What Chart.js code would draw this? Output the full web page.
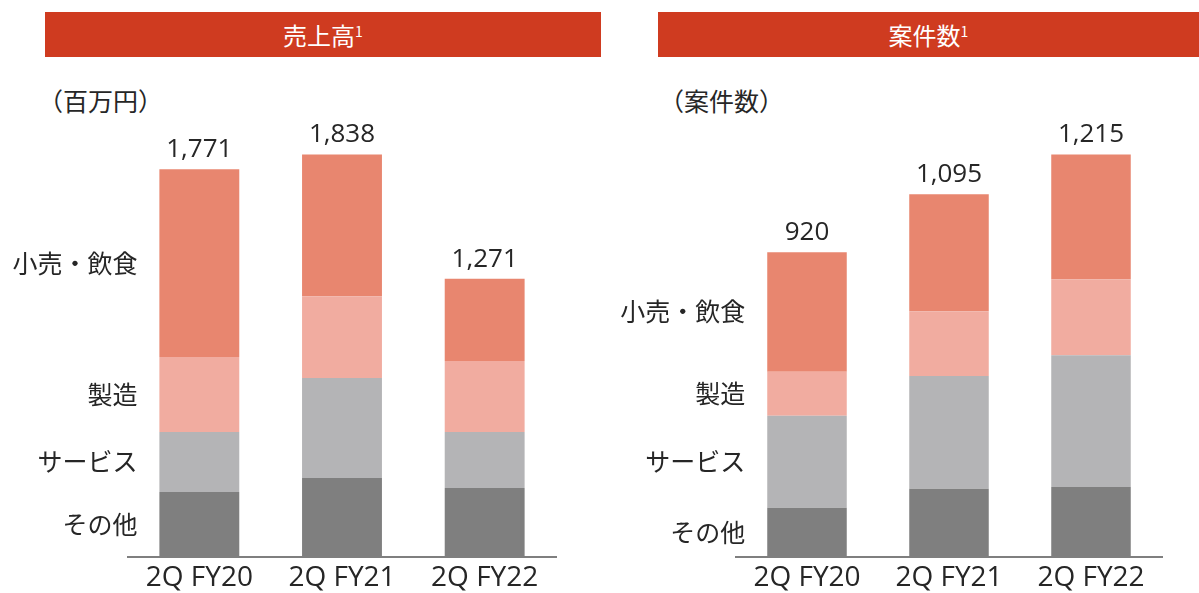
<!DOCTYPE html>
<html lang="ja">
<head>
<meta charset="utf-8">
<script src="https://cdn.jsdelivr.net/npm/chart.js@4.4.0/dist/chart.umd.min.js"></script>
<style>
  html, body { margin: 0; padding: 0; background: #fff; }
  #page { position: relative; width: 1199px; height: 593px; overflow: hidden; color: #262626; }
  .head { position: absolute; top: 12px; height: 45px; background: #CF3B20; color: #fff;
          font: 24px 'Noto Sans CJK JP', sans-serif; line-height: 45px; text-align: center; }
  .head sup { font-size: 14px; vertical-align: 8px; line-height: 0; }
  .unit { position: absolute; top: 88px; font: 25px 'Noto Sans CJK JP', sans-serif; line-height: 25px; }
  canvas { position: absolute; top: 0; }
</style>
</head>
<body>
<div id="page">
  <div class="head" style="left:45px;width:556px">売上高<sup>1</sup></div>
  <div class="head" style="left:658px;width:541px">案件数<sup>1</sup></div>
  <div class="unit" style="left:38px">（百万円）</div>
  <div class="unit" style="left:659px">（案件数）</div>
  <canvas id="salesChart" width="600" height="593" style="left:0"></canvas>
  <canvas id="dealsChart" width="599" height="593" style="left:600px"></canvas>
</div>
<script>
'use strict';

const periods   = ['2Q FY20', '2Q FY21', '2Q FY22'];
const segments  = ['その他', 'サービス', '製造', '小売・飲食'];
const segColors = ['#7F7F7F', '#B4B4B6', '#F1ACA0', '#E8866F'];

// 売上高 (百万円)
const salesOther   = [297, 361, 315];
const salesService = [274, 456, 256];
const salesMfg     = [342, 374, 324];
const salesRetail  = [858, 647, 376];

// 案件数
const dealsOther   = [149, 206, 211];
const dealsService = [277, 340, 398];
const dealsMfg     = [133, 196, 229];
const dealsRetail  = [361, 353, 377];

const textColor = '#262626';
const latinFont = "'Open Sans', 'Noto Sans CJK JP', sans-serif";

// segment names next to the first bar + totals above every bar
const barLabels = {
  id: 'barLabels',
  afterDatasetsDraw(chart) {
    const { ctx } = chart;
    const y = chart.scales.y;
    const sets = chart.data.datasets;
    const first = chart.getDatasetMeta(0).data[0];
    ctx.save();
    ctx.fillStyle = textColor;

    ctx.font = "25px 'Noto Sans CJK JP', sans-serif";
    ctx.textAlign = 'right';
    ctx.textBaseline = 'middle';
    let base = 0;
    sets.forEach(ds => {
      const v = ds.data[0];
      ctx.fillText(ds.label, first.x - first.width / 2 - 22, y.getPixelForValue(base + v / 2));
      base += v;
    });

    ctx.font = '26px ' + latinFont;
    ctx.textAlign = 'center';
    ctx.textBaseline = 'alphabetic';
    chart.data.labels.forEach((_, i) => {
      const total = sets.reduce((s, ds) => s + ds.data[i], 0);
      const bar = chart.getDatasetMeta(sets.length - 1).data[i];
      ctx.fillText(total.toLocaleString('en-US'), bar.x, y.getPixelForValue(total) - 12);
    });
    ctx.restore();
  }
};

function makeChart(id, values, yMax, pad) {
  return new Chart(document.getElementById(id), {
    type: 'bar',
    data: {
      labels: periods,
      datasets: segments.map((s, k) => ({
        label: s,
        data: values[k],
        backgroundColor: segColors[k],
        borderWidth: 0,
        barPercentage: 0.56,
        categoryPercentage: 1
      }))
    },
    options: {
      responsive: false, animation: false,
      layout: { padding: pad },
      plugins: { legend: { display: false }, tooltip: { enabled: false } },
      scales: {
        x: {
          stacked: true,
          grid: { display: false, drawTicks: false },
          border: { display: true, color: '#7F7F7F', width: 2 },
          ticks: { color: textColor, font: { family: latinFont, size: 28 }, padding: 4 },
          afterFit: s => { s.height = 36; }
        },
        y: { stacked: true, display: false, min: 0, max: yMax }
      }
    },
    plugins: [barLabels]
  });
}

makeChart('salesChart', [salesOther, salesService, salesMfg, salesRetail], 2000,
  { left: 128, right: 44, top: 119, bottom: 0 });
makeChart('dealsChart', [dealsOther, dealsService, dealsMfg, dealsRetail], 1322,
  { left: 136, right: 37, top: 119, bottom: 0 });
</script>
</body>
</html>
